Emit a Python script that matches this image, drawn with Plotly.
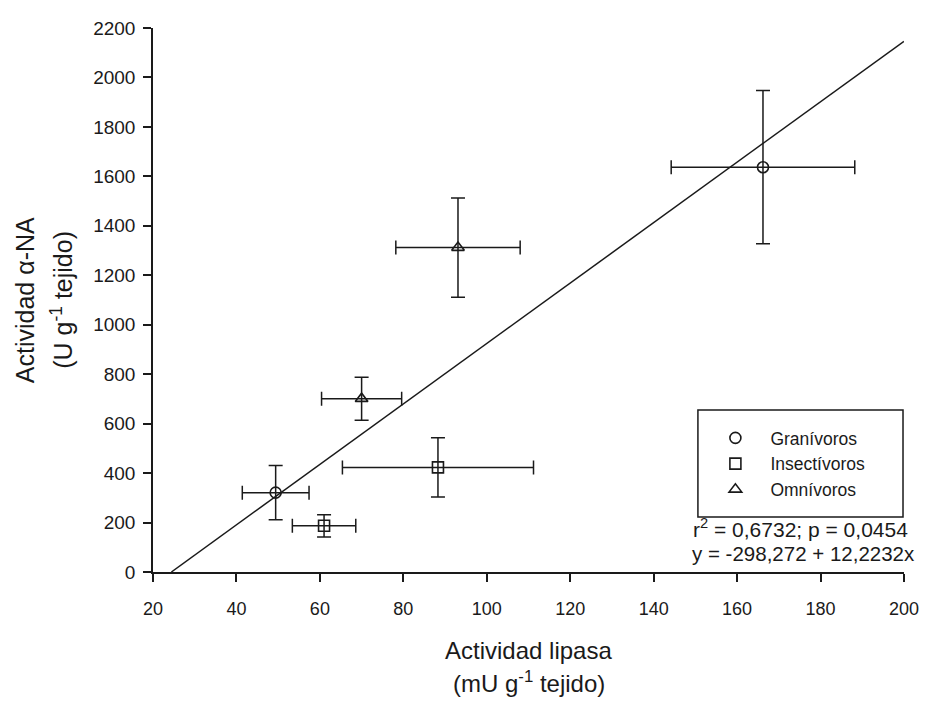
import plotly.graph_objects as go

# Data
groups = ["Granívoros", "Insectívoros", "Omnívoros"]
symbols = ["circle-open", "square-open", "triangle-up-open"]

gran_x = [49.4, 166.2]
gran_x_err = [8.0, 22.0]
gran_y = [321, 1637]
gran_y_err = [110, 310]

insect_x = [61.0, 88.3]
insect_x_err = [7.6, 22.9]
insect_y = [187, 423]
insect_y_err = [45, 120]

omni_x = [70.0, 93.1]
omni_x_err = [9.6, 14.9]
omni_y = [701, 1312]
omni_y_err = [87, 201]

# Regression: y = a + b x
reg_a = -298.272
reg_b = 12.2232
reg_x = [-reg_a / reg_b, 200]
reg_y = [reg_a + reg_b * v for v in reg_x]

x_ticks = [20, 40, 60, 80, 100, 120, 140, 160, 180, 200]
y_ticks = [0, 200, 400, 600, 800, 1000, 1200, 1400, 1600, 1800, 2000, 2200]

FONT = "Liberation Sans, Arial, sans-serif"
INK = "#1a1a1a"

# page-pixel geometry of the plot area
PL, PR, PT, PB = 153, 911, 28, 572
PW, PH = PR - PL, PB - PT


def px(x):
    return (x - PL) / PW


def py(y):
    return (PB - y) / PH


fig = go.Figure()

fig.add_trace(go.Scatter(x=reg_x, y=reg_y, mode="lines",
                         line=dict(color=INK, width=1.5), showlegend=False,
                         hoverinfo="skip"))

series = [
    (gran_x, gran_y, gran_x_err, gran_y_err),
    (insect_x, insect_y, insect_x_err, insect_y_err),
    (omni_x, omni_y, omni_x_err, omni_y_err),
]
for name, sym, (xs, ys, xe, ye) in zip(groups, symbols, series):
    fig.add_trace(go.Scatter(
        x=xs, y=ys, mode="markers", name=name,
        marker=dict(symbol=sym, size=11, color=INK, line=dict(color=INK, width=1.6)),
        error_x=dict(type="data", array=xe, visible=True, color=INK, thickness=1.5, width=7),
        error_y=dict(type="data", array=ye, visible=True, color=INK, thickness=1.5, width=7),
    ))

W, H = 931, 701
fig.update_layout(
    width=W, height=H,
    margin=dict(l=PL, r=W - PR, t=PT, b=H - PB),
    paper_bgcolor="white", plot_bgcolor="white",
    font=dict(family=FONT, color=INK, size=18),
    showlegend=True,
    legend=dict(x=px(705.5), y=py(420), xanchor="left", yanchor="top",
                bgcolor="rgba(0,0,0,0)", borderwidth=0,
                itemwidth=60, font=dict(size=17.5, family=FONT, color=INK)),
    xaxis=dict(range=[20, 200], tickvals=x_ticks, ticks="outside", ticklen=8,
               tickwidth=1.5, tickcolor=INK, showline=True, linecolor=INK,
               linewidth=1.5, showgrid=False, zeroline=False,
               ticklabelstandoff=12, tickfont=dict(size=18)),
    yaxis=dict(range=[0, 2200], tickvals=y_ticks, ticks="outside", ticklen=8,
               tickwidth=1.5, tickcolor=INK, showline=True, linecolor=INK,
               linewidth=1.5, showgrid=False, zeroline=False,
               ticklabelstandoff=4, tickfont=dict(size=19)),
    shapes=[dict(type="rect", xref="paper", yref="paper",
                 x0=px(703), x1=px(910), y0=py(517), y1=py(410),
                 line=dict(color=INK, width=1.5), fillcolor="rgba(0,0,0,0)")],
    annotations=[
        dict(text="r<sup>2</sup> = 0,6732; p = 0,0454", xref="paper", yref="paper",
             x=px(917), y=py(528), xanchor="right", yanchor="middle",
             showarrow=False, font=dict(size=21)),
        dict(text="y = -298,272 + 12,2232x", xref="paper", yref="paper",
             x=px(924), y=py(553), xanchor="right", yanchor="middle",
             showarrow=False, font=dict(size=20.5)),
        dict(text="Actividad lipasa", xref="paper", yref="paper",
             x=0.5, y=py(650), xanchor="center", yanchor="middle",
             showarrow=False, font=dict(size=24)),
        dict(text="(mU g<sup>-1</sup> tejido)", xref="paper", yref="paper",
             x=0.5, y=py(682), xanchor="center", yanchor="middle",
             showarrow=False, font=dict(size=24)),
        dict(text="Actividad α-NA", xref="paper", yref="paper",
             x=px(24), y=0.5, xanchor="center", yanchor="middle",
             textangle=-90, showarrow=False, font=dict(size=25)),
        dict(text="(U g<sup>-1</sup> tejido)", xref="paper", yref="paper",
             x=px(61), y=0.5, xanchor="center", yanchor="middle",
             textangle=-90, showarrow=False, font=dict(size=25)),
    ],
)

fig.write_html(
    "out.html",
    config={"displayModeBar": False},
    post_script="document.body.style.margin='0';document.body.style.overflow='hidden';",
)
